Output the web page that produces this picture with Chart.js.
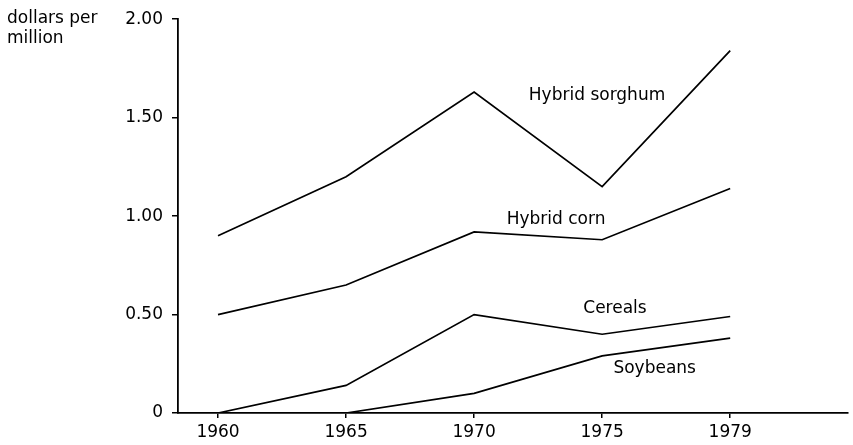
<!DOCTYPE html>
<html>
<head>
<meta charset="utf-8">
<script src="https://cdn.jsdelivr.net/npm/chart.js@4.4.0/dist/chart.umd.min.js"></script>
<style>
  html, body { margin: 0; padding: 0; background: #fff; }
  #c { display: block; }
</style>
</head>
<body>
<canvas id="c" width="853" height="445"></canvas>
<script>
// ---- data ----
const years = ['1960', '1965', '1970', '1975', '1979'];
const yTickLabels = ['0', '0.50', '1.00', '1.50', '2.00'];
const yTickValues = [0, 0.5, 1.0, 1.5, 2.0];
const axisTitle = ['dollars per', 'million'];

const hybridSorghum = [0.90, 1.20, 1.63, 1.15, 1.84];
const hybridCorn    = [0.50, 0.65, 0.92, 0.88, 1.14];
const cereals       = [0.00, 0.14, 0.50, 0.40, 0.49];
const soybeans      = [null, 0.00, 0.10, 0.29, 0.38];

const seriesNames = ['Hybrid sorghum', 'Hybrid corn', 'Cereals', 'Soybeans'];
// label anchors in data coordinates (x = category index, y = value)
const labelAnchors = [
  { x: 2.96, y: 1.61 },
  { x: 2.64, y: 0.98 },
  { x: 3.10, y: 0.53 },
  { x: 3.41, y: 0.225 }
];

const FONT = '"DejaVu Sans", Verdana, sans-serif';
const toPts = arr => arr.map((v, i) => ({ x: i, y: v }));

const lineStyle = {
  borderColor: '#000',
  borderWidth: 1.7,
  pointRadius: 0,
  tension: 0,
  fill: false,
  spanGaps: false
};

const annotate = {
  id: 'annotate',
  afterDatasetsDraw(chart) {
    const ctx = chart.ctx;
    const xs = chart.scales.x, ys = chart.scales.y;
    ctx.save();
    ctx.fillStyle = '#000';
    ctx.font = '17px ' + FONT;
    ctx.textAlign = 'center';
    ctx.textBaseline = 'middle';
    seriesNames.forEach((n, i) => {
      ctx.fillText(n, xs.getPixelForValue(labelAnchors[i].x), ys.getPixelForValue(labelAnchors[i].y));
    });
    ctx.textAlign = 'left';
    ctx.textBaseline = 'middle';
    axisTitle.forEach((t, i) => ctx.fillText(t, 7, 19 + i * 20));
    ctx.restore();
  }
};

new Chart(document.getElementById('c'), {
  type: 'line',
  data: {
    datasets: [
      { label: seriesNames[0], data: toPts(hybridSorghum), ...lineStyle },
      { label: seriesNames[1], data: toPts(hybridCorn), ...lineStyle },
      { label: seriesNames[2], data: toPts(cereals), ...lineStyle },
      { label: seriesNames[3], data: toPts(soybeans), ...lineStyle }
    ]
  },
  options: {
    responsive: false,
    animation: false,
    devicePixelRatio: 1,
    layout: { padding: { left: 0, right: 5, top: 12, bottom: 0 } },
    plugins: { legend: { display: false }, tooltip: { enabled: false }, title: { display: false } },
    scales: {
      x: {
        type: 'linear',
        min: -0.3125,
        max: 4.92,
        afterBuildTicks: s => { s.ticks = years.map((_, i) => ({ value: i })); },
        afterFit: s => { s.height = 32; },
        ticks: {
          color: '#000',
          font: { family: FONT, size: 17 },
          padding: 4,
          maxRotation: 0,
          autoSkip: false,
          callback: v => years[v]
        },
        grid: { display: true, drawOnChartArea: false, drawTicks: true, tickLength: 5, color: '#000', lineWidth: 1.5 },
        border: { display: true, color: '#000', width: 1.8 }
      },
      y: {
        type: 'linear',
        min: 0,
        max: 2,
        afterBuildTicks: s => { s.ticks = yTickValues.map(v => ({ value: v })); },
        afterFit: s => { s.width = 178; },
        ticks: {
          color: '#000',
          font: { family: FONT, size: 17 },
          padding: 9,
          callback: v => yTickLabels[yTickValues.indexOf(v)]
        },
        grid: { display: true, drawOnChartArea: false, drawTicks: true, tickLength: 6, color: '#000', lineWidth: 1.5 },
        border: { display: true, color: '#000', width: 1.8 }
      }
    }
  },
  plugins: [annotate]
});
</script>
</body>
</html>
